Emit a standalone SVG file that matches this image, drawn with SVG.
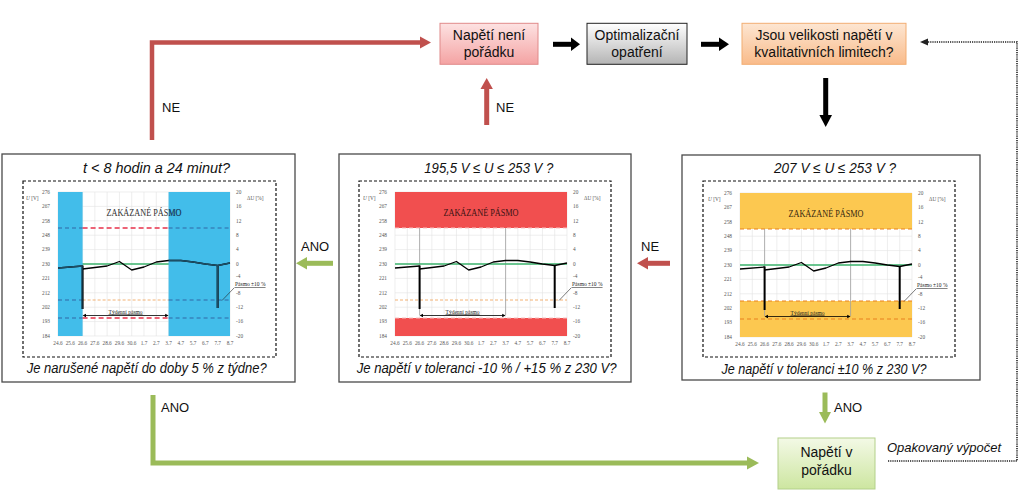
<svg xmlns="http://www.w3.org/2000/svg" xmlns:xlink="http://www.w3.org/1999/xlink" width="1024" height="495" viewBox="0 0 1024 495">
<style>
.box{fill:#fff;stroke:#4a4a4a;stroke-width:1.3}
.inner{fill:none;stroke:#111;stroke-width:1.2;stroke-dasharray:3,2}
.ttl{font-family:"Liberation Sans",Arial,sans-serif;font-style:italic;font-size:14.5px;fill:#111;text-anchor:middle}
.lbl{font-family:"Liberation Sans",Arial,sans-serif;font-size:13px;fill:#111}
.bt{font-family:"Liberation Sans",Arial,sans-serif;font-size:14px;fill:#111;text-anchor:middle}
.gl{fill:none;stroke:#e2e2e2;stroke-width:0.6}
.tk{font-family:"Liberation Serif","Times New Roman",serif;font-size:5.3px;fill:#555}
.sm{font-family:"Liberation Serif","Times New Roman",serif;font-size:5.5px;fill:#222;text-decoration:underline}
.zak{font-family:"Liberation Serif","Times New Roman",serif;font-size:9.5px;text-anchor:middle}
.crv{fill:none;stroke-width:1.3;stroke-linejoin:round}
.drp{fill:none;stroke-width:2}
.grn{fill:none;stroke:#3cb46e;stroke-width:1.3}
.odash{fill:none;stroke:#f0a050;stroke-width:0.8;stroke-dasharray:3,2}
.gv{fill:none;stroke:#a0a0a0;stroke-width:0.8}
.red{fill:#c0504d}
.gr{fill:#9bbb59}
.blk{fill:#000}
</style>
<defs>
<linearGradient id="gPink" x1="0" y1="0" x2="0" y2="1"><stop offset="0" stop-color="#fde2e2"/><stop offset="1" stop-color="#f4a3a3"/></linearGradient>
<linearGradient id="gGray" x1="0" y1="0" x2="0" y2="1"><stop offset="0" stop-color="#ffffff"/><stop offset="1" stop-color="#b4b4b4"/></linearGradient>
<linearGradient id="gOr" x1="0" y1="0" x2="0" y2="1"><stop offset="0" stop-color="#fde6d2"/><stop offset="1" stop-color="#f9bb8a"/></linearGradient>
<linearGradient id="gGr" x1="0" y1="0" x2="0" y2="1"><stop offset="0" stop-color="#f3f9e6"/><stop offset="1" stop-color="#cde6a0"/></linearGradient>
<clipPath id="blueClip"><rect x="0" y="0" width="24.6" height="144"/><rect x="110.6" y="0" width="61.4" height="144"/></clipPath>
<g id="grid">
<path class="gl" d="M0,0V144M12.29,0V144M24.57,0V144M36.86,0V144M49.14,0V144M61.43,0V144M73.71,0V144M86,0V144M98.29,0V144M110.57,0V144M122.86,0V144M135.14,0V144M147.43,0V144M159.71,0V144M172,0V144M0,0H172M0,14.4H172M0,28.8H172M0,43.2H172M0,57.6H172M0,72H172M0,86.4H172M0,100.8H172M0,115.2H172M0,129.6H172M0,144H172"/>
<g class="tk" text-anchor="end">
<text x="-8" y="1.8">276</text><text x="-8" y="16.2">267</text><text x="-8" y="30.6">258</text><text x="-8" y="45">248</text><text x="-8" y="59.4">239</text><text x="-8" y="73.8">230</text><text x="-8" y="88.2">221</text><text x="-8" y="102.6">212</text><text x="-8" y="117">202</text><text x="-8" y="131.4">193</text><text x="-8" y="145.8">184</text>
</g>
<g class="tk">
<text x="178" y="1.8">20</text><text x="178" y="16.2">16</text><text x="178" y="30.6">12</text><text x="178" y="45">8</text><text x="178" y="59.4">4</text><text x="178" y="73.8">0</text><text x="178" y="86">-4</text><text x="178" y="102.6">-8</text><text x="178" y="117">-12</text><text x="178" y="131.4">-16</text><text x="178" y="145.8">-20</text>
<text x="-32" y="8"><tspan font-style="italic">U</tspan> [V]</text>
<text x="189" y="8">ΔU [%]</text>
</g>
<g class="tk" text-anchor="middle">
<text x="0" y="153">24.6</text><text x="12.29" y="153">25.6</text><text x="24.57" y="153">26.6</text><text x="36.86" y="153">27.6</text><text x="49.14" y="153">28.6</text><text x="61.43" y="153">29.6</text><text x="73.71" y="153">30.6</text><text x="86" y="153">1.7</text><text x="98.29" y="153">2.7</text><text x="110.57" y="153">3.7</text><text x="122.86" y="153">4.7</text><text x="135.14" y="153">5.7</text><text x="147.43" y="153">6.7</text><text x="159.71" y="153">7.7</text><text x="172" y="153">8.7</text>
</g>
</g>
<g id="crv">
<path class="crv" d="M0,76L24.6,74M24.6,77L36.9,75.5L49.1,74L61.4,69.5L73.7,78L86,75L98.3,70L110.6,68.5L122.9,68.5L135.1,70L147.4,72L159.7,73.5L172,71"/>
<path class="drp" d="M24.6,73.5V117M159.7,73V116"/>
</g>
<g id="annot">
<path d="M27,123.5H108.2" stroke="#000" stroke-width="0.8"/>
<path d="M24.6,123.5L28,121.8L28,125.2Z M110.6,123.5L107.2,121.8L107.2,125.2Z" fill="#000"/>
<text class="sm" x="67.6" y="121.5" text-anchor="middle">Týdenní pásmo</text>
<text class="sm" x="177" y="94">Pásmo ±10 %</text>
<path d="M176.5,95.5L164,108.5" stroke="#222" stroke-width="0.6"/>
</g>
</defs>

<g id="connectors">
<path d="M152,140V42.5H421" fill="none" stroke="#c0504d" stroke-width="4.5"/>
<polygon class="red" points="420,36.5 431,42.5 420,48.5"/>
<path d="M486.7,125V88" fill="none" stroke="#c0504d" stroke-width="5"/>
<polygon class="red" points="480.5,89 486.7,78 492.9,89"/>
<path d="M553,44.3H572" stroke="#000" stroke-width="5"/>
<polygon class="blk" points="571,37.5 580,44.3 571,51.1"/>
<path d="M701,44.3H720" stroke="#000" stroke-width="5"/>
<polygon class="blk" points="719,37.5 729,44.3 719,51.1"/>
<path d="M825.7,78V116" stroke="#000" stroke-width="5"/>
<polygon class="blk" points="819.4,115 825.7,127 832,115"/>
<path d="M333,263.3H306" stroke="#9bbb59" stroke-width="5"/>
<polygon class="gr" points="307,257 296,263.3 307,269.6"/>
<path d="M670,263.3H647" stroke="#c0504d" stroke-width="5"/>
<polygon class="red" points="648,257 637,263.3 648,269.6"/>
<path d="M153,395V463H748" fill="none" stroke="#9bbb59" stroke-width="5"/>
<polygon class="gr" points="747,456.5 759,463 747,469.5"/>
<path d="M825,392.5V413" stroke="#9bbb59" stroke-width="5"/>
<polygon class="gr" points="819,412 825,423.5 831,412"/>
<path d="M888,461H1017V42H927" fill="none" stroke="#222" stroke-width="1.6" stroke-dasharray="1.2,1"/>
<polygon fill="#222" points="928,38.5 920,42 928,45.5"/>
<text class="lbl" x="162" y="112">NE</text>
<text class="lbl" x="496" y="112">NE</text>
<text class="lbl" x="301" y="251">ANO</text>
<text class="lbl" x="641" y="251">NE</text>
<text class="lbl" x="161" y="412">ANO</text>
<text class="lbl" x="834" y="412">ANO</text>
<text class="lbl" x="887" y="452" font-style="italic" font-size="13.5">Opakovaný výpočet</text>
</g>

<g id="node-neni">
<rect x="440" y="23.3" width="98" height="41" fill="url(#gPink)" stroke="#e08a8a" stroke-width="1"/>
<text class="bt" x="489" y="40">Napětí není</text>
<text class="bt" x="489" y="57">pořádku</text>
</g>
<g id="node-opt">
<rect x="587" y="23.3" width="100" height="41" fill="url(#gGray)" stroke="#222" stroke-width="1"/>
<text class="bt" x="637" y="40">Optimalizační</text>
<text class="bt" x="637" y="57">opatření</text>
</g>
<g id="node-jsou">
<rect x="742" y="23.3" width="164" height="41" fill="url(#gOr)" stroke="#f2ad72" stroke-width="1"/>
<text class="bt" x="824" y="40">Jsou velikosti napětí v</text>
<text class="bt" x="824" y="57">kvalitativních limitech?</text>
</g>
<g id="node-poradku">
<rect x="778" y="438" width="97" height="51" fill="url(#gGr)" stroke="#b3d08a" stroke-width="1"/>
<text class="bt" x="826.5" y="457">Napětí v</text>
<text class="bt" x="826.5" y="475">pořádku</text>
</g>

<g id="node-box1">
<rect class="box" x="2" y="154" width="293" height="228"/>
<rect class="inner" x="23" y="181" width="253" height="176"/>
<text class="ttl" x="156.5" y="173" textLength="147" lengthAdjust="spacingAndGlyphs">t &lt; 8 hodin a 24 minut?</text>
<text class="ttl" x="146.7" y="373" textLength="240" lengthAdjust="spacingAndGlyphs">Je narušené napětí do doby 5 % z týdne?</text>
<g transform="translate(58,192)">
<use xlink:href="#grid"/>
<path class="grn" d="M0,72H172"/>
<rect x="0" y="0" width="24.6" height="144" fill="#42bdea"/>
<rect x="110.6" y="0" width="61.4" height="144" fill="#42bdea"/>
<path d="M24.6,36H110.6M24.6,126H110.6" fill="none" stroke="#e8304a" stroke-width="1.5" stroke-dasharray="5,3"/>
<path class="odash" d="M24.6,108H110.6"/>
<path d="M0,36H24.6M110.6,36H172M0,108H24.6M110.6,108H172M0,126H24.6M110.6,126H172" fill="none" stroke="#2f5f9f" stroke-width="0.9" stroke-dasharray="4,3"/>
<text class="zak" x="86" y="23.5" fill="#333" textLength="75" lengthAdjust="spacingAndGlyphs">ZAKÁZANÉ PÁSMO</text>
<text class="zak" x="86" y="23.5" fill="#17507e" clip-path="url(#blueClip)" textLength="75" lengthAdjust="spacingAndGlyphs">ZAKÁZANÉ PÁSMO</text>
<use xlink:href="#crv" stroke="#000"/>
<use xlink:href="#crv" stroke="#1d4e66" clip-path="url(#blueClip)"/>
<use xlink:href="#annot"/>
</g>
</g>

<g id="node-box2">
<rect class="box" x="339" y="154" width="292" height="228"/>
<rect class="inner" x="359" y="181" width="252" height="176"/>
<text class="ttl" x="488.8" y="173" textLength="129" lengthAdjust="spacingAndGlyphs">195,5 V ≤ U ≤ 253 V ?</text>
<text class="ttl" x="486.7" y="373" textLength="260" lengthAdjust="spacingAndGlyphs">Je napětí v toleranci -10 % / +15 % z 230 V?</text>
<g transform="translate(395,192)">
<use xlink:href="#grid"/>
<rect x="0" y="0" width="172" height="36" fill="#f14f4f"/>
<rect x="0" y="126" width="172" height="18" fill="#f14f4f"/>
<path d="M0,36H172M0,126H172" fill="none" stroke="#f9c0c0" stroke-width="1" stroke-dasharray="4,3"/>
<path class="odash" d="M0,108H172"/>
<path class="gv" d="M24.6,36V123M110.6,36V123"/>
<path class="grn" d="M0,72H172"/>
<text class="zak" x="86" y="23.5" fill="#3a1414" textLength="75" lengthAdjust="spacingAndGlyphs">ZAKÁZANÉ PÁSMO</text>
<use xlink:href="#crv" stroke="#000"/>
<use xlink:href="#annot"/>
</g>
</g>

<g id="node-box3">
<rect class="box" x="682" y="155" width="298" height="225"/>
<rect class="inner" x="703" y="181" width="252" height="176"/>
<text class="ttl" x="835" y="173" textLength="122" lengthAdjust="spacingAndGlyphs">207 V ≤ U ≤ 253 V ?</text>
<text class="ttl" x="824" y="374" textLength="205" lengthAdjust="spacingAndGlyphs">Je napětí v toleranci ±10 % z 230 V?</text>
<g transform="translate(740,193)">
<use xlink:href="#grid"/>
<rect x="0" y="0" width="172" height="36" fill="#fcc850"/>
<rect x="0" y="108" width="172" height="36" fill="#fcc850"/>
<path d="M0,36H172M0,108H172M0,126H172" fill="none" stroke="#e8801e" stroke-width="1" stroke-dasharray="4,3"/>
<path class="gv" d="M24.6,36V123M110.6,36V123"/>
<path class="grn" d="M0,72H172"/>
<text class="zak" x="86" y="23.5" fill="#3a2a10" textLength="75" lengthAdjust="spacingAndGlyphs">ZAKÁZANÉ PÁSMO</text>
<use xlink:href="#crv" stroke="#000"/>
<use xlink:href="#annot"/>
</g>
</g>
</svg>
